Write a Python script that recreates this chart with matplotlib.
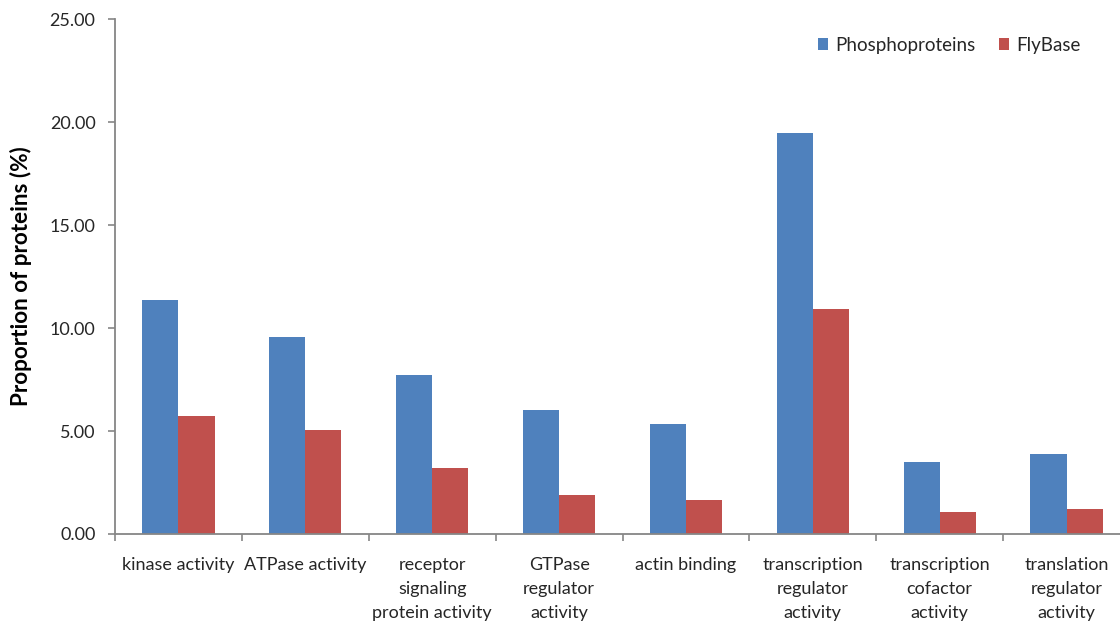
import matplotlib
matplotlib.use("Agg")
import matplotlib.pyplot as plt
import numpy as np
from matplotlib.ticker import FormatStrFormatter, FixedLocator

categories = [
    "kinase activity",
    "ATPase activity",
    "receptor\nsignaling\nprotein activity",
    "GTPase\nregulator\nactivity",
    "actin binding",
    "transcription\nregulator\nactivity",
    "transcription\ncofactor\nactivity",
    "translation\nregulator\nactivity",
]
phospho = [11.36, 9.58, 7.73, 6.03, 5.35, 19.45, 3.51, 3.88]
flybase = [5.73, 5.06, 3.22, 1.88, 1.67, 10.92, 1.05, 1.21]
series_names = ["Phosphoproteins", "FlyBase"]
y_ticks = [0, 5, 10, 15, 20, 25]

blue = "#4F81BD"
red = "#C0504D"
axis_gray = "#868686"
text_col = "#262626"

plt.rcParams["font.family"] = ["Lato", "DejaVu Sans"]

W, H = 1120, 624
fig = plt.figure(figsize=(W / 100, H / 100), dpi=100)
left_px, right_px, top_px, bottom_px = 115, 1130, 19, 534
ax = fig.add_axes([left_px / W, (H - bottom_px) / H,
                   (right_px - left_px) / W, (bottom_px - top_px) / H])

x = np.arange(len(categories))
bw = 0.285
ax.bar(x - bw / 2, phospho, width=bw, color=blue, label=series_names[0], zorder=2)
ax.bar(x + bw / 2, flybase, width=bw, color=red, label=series_names[1], zorder=2)

ax.set_xlim(-0.5, len(categories) - 0.5)
ax.set_ylim(0, 25)
ax.set_yticks(y_ticks)
ax.yaxis.set_major_formatter(FormatStrFormatter("%.2f"))

for side in ("top", "right"):
    ax.spines[side].set_visible(False)
for side in ("left", "bottom"):
    ax.spines[side].set_color(axis_gray)
    ax.spines[side].set_linewidth(1.3)

ax.tick_params(axis="y", direction="out", length=5, width=1.2, color=axis_gray,
               labelsize=13, labelcolor=text_col, pad=9)

ax.set_xticks(x)
ax.set_xticklabels(categories, fontsize=13, color=text_col, linespacing=1.6,
                   va="top")
ax.tick_params(axis="x", which="major", length=0, pad=16.5)
ax.xaxis.set_minor_locator(FixedLocator(np.arange(len(categories) + 1) - 0.5))
ax.tick_params(axis="x", which="minor", direction="out", length=5, width=1.2,
               color=axis_gray)

ax.set_ylabel("Proportion of proteins (%)", fontsize=16.2, fontweight="bold",
              color="black")
ax.yaxis.set_label_coords(32 / W, 1 - 276.5 / H, transform=fig.transFigure)

leg = ax.legend(loc="center left", bbox_to_anchor=(818 / W, 1 - 45 / H),
                bbox_transform=fig.transFigure, ncol=2, frameon=False,
                handlelength=0.55, handleheight=0.55, handletextpad=0.38,
                columnspacing=1.25, fontsize=13.5, borderaxespad=0,
                borderpad=0)
for t in leg.get_texts():
    t.set_color(text_col)

fig.savefig("out.png", dpi=100)
